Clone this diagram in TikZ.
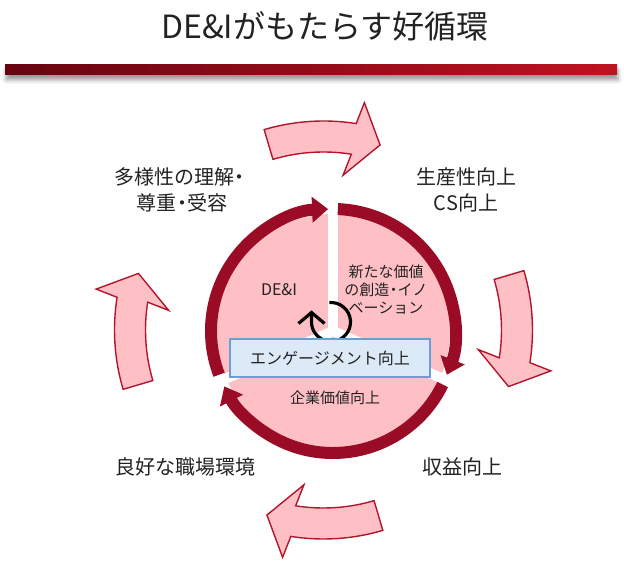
\documentclass[tikz,border=0pt]{standalone}
\usepackage{fontspec}
\setmainfont{Noto Sans CJK JP}
\usetikzlibrary{arrows.meta,shadows.blur}
\definecolor{cycred}{HTML}{9A0C26}
\definecolor{cycpink}{HTML}{FFC0C5}
\definecolor{cycedge}{HTML}{B3162C}
\definecolor{barleft}{HTML}{660510}
\definecolor{barright}{HTML}{BE1321}
\definecolor{engfill}{HTML}{DCEAF7}
\definecolor{engedge}{HTML}{6A9FD4}
\definecolor{cyctext}{HTML}{222222}
\newcommand\nakadot{\hspace{-0.22em}・\hspace{-0.22em}}
\tikzset{
  bigarrow/.style={draw=cycedge, fill=cycpink, line width=1.4pt, line join=miter},
  ringseg/.style={cycred, line width=12pt, -{Triangle[width=25pt,length=16pt]}},
  outerlabel/.style={text=cyctext, align=center, font=\fontsize{20}{26}\selectfont},
  innerlabel/.style={text=cyctext, align=center, font=\fontsize{15}{18}\selectfont}
}

\begin{document}
\begin{tikzpicture}[x=1pt,y=1pt]
\useasboundingbox (0,0) rectangle (624,567);
\coordinate (O) at (333,236);
\coordinate (C) at (323.5,237);
\coordinate (R) at (331,245);

% title and bar
\node[text=cyctext] (title) at (325,541) {\fontsize{32}{36}\selectfont DE\&Iがもたらす好循環};
\fill[left color=barleft, right color=barright,
  blur shadow={shadow xshift=1pt, shadow yshift=-5pt, shadow blur radius=4pt, shadow opacity=40}]
  (5,492) rectangle (617,502);

% outer cycle
\foreach \k in {0,1,2,3}
  \draw[bigarrow, shift={(C)}, rotate=-90*\k]
    (106.5:209) arc[start angle=106.5, end angle=81, radius=209]
    -- (79.8:231) -- (73:193.5) -- (82.8:156) -- (81:178)
    arc[start angle=81, end angle=106.5, radius=178] -- cycle;

% inner disk
\fill[cycpink] (O) circle[radius=117];
\draw[white, line width=10pt] (O) -- ++(90:132);
\draw[white, line width=10pt] (O) -- ++(-23.5:132);
\draw[white, line width=10pt] (O) -- ++(204:132);

\draw[ringseg] ([shift={(201:122)}]O) arc[start angle=201, end angle=92.3, radius=122];
\draw[ringseg] ([shift={(87.7:122)}]O) arc[start angle=87.7, end angle=-21, radius=122];
\draw[ringseg] ([shift={(-26:122)}]O) arc[start angle=-26, end angle=-153, radius=122];

% turning arrow
\draw[black, line width=3.2pt]
  ([shift={(95:19.5)}]R) arc[start angle=95, end angle=-180, radius=19.5] -- ++(0,8);
\draw[black, line width=3.2pt, line join=miter]
  ([shift={(-32.5,-1.5)}]R) -- ([shift={(-19.5,9.5)}]R) -- ([shift={(-6.5,-1.5)}]R);

% labels
\node[outerlabel] (diversity) at (182,377) {多様性の理解\hspace{-0.22em}・\\尊重\nakadot 受容};
\node[outerlabel] (productivity) at (466,377) {生産性向上\\CS向上};
\node[outerlabel] (workplace) at (185,100) {良好な職場環境};
\node[outerlabel] (profit) at (462,100) {収益向上};

\node[text=cyctext, font=\fontsize{16}{18}\selectfont] (dei) at (279,277) {DE\&I};
\node[innerlabel] (innovation) at (386,277) {新たな価値\\の創造\nakadot イノ\\ベーション};
\node[innerlabel] (corpvalue) at (335,169) {企業価値向上};
\node[draw=engedge, fill=engfill, line width=1.2pt, minimum width=200pt, minimum height=38pt,
  inner sep=0pt, text=cyctext, font=\fontsize{16}{18}\selectfont] (engage) at (330,209) {エンゲージメント向上};
\end{tikzpicture}
\end{document}
